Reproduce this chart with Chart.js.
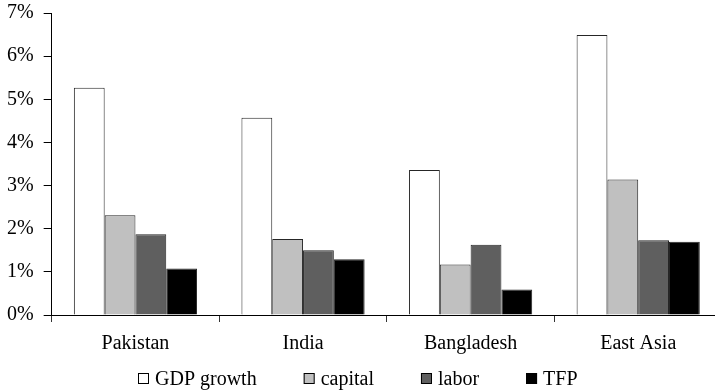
<!DOCTYPE html>
<html>
<head>
<meta charset="utf-8">
<script src="https://cdn.jsdelivr.net/npm/chart.js@4/dist/chart.umd.min.js"></script>
<style>
  html, body { margin: 0; padding: 0; background: #fff; overflow: hidden; }
  #wrap { width: 722px; height: 391px; }
</style>
</head>
<body>
<div id="wrap"><canvas id="barchart"></canvas></div>
<script>
// values in percent
const countries = ["Pakistan", "India", "Bangladesh", "East Asia"];
const gdpGrowth = [5.27, 4.57, 3.36, 6.49];
const capital = [2.31, 1.76, 1.17, 3.14];
const labor = [1.87, 1.50, 1.63, 1.73];
const tfp = [1.08, 1.29, 0.59, 1.70];
const yTicks = [0, 1, 2, 3, 4, 5, 6, 7];

const serif = "'Liberation Serif', 'DejaVu Serif', serif";
const edge = "#262626";

// Legend drawn by hand: Chart.js uses one padding for both gaps and height
const legendBelow = {
  id: "legendBelow",
  afterDraw(chart) {
    const ctx = chart.ctx;
    const box = 11;
    const gapText = 6;
    const gapItem = 47;
    const baseline = 385;
    const centerX = 357.5; // middle of the visible window
    ctx.save();
    ctx.font = "20px " + serif;
    const items = chart.data.datasets.map((ds) => ({
      text: ds.label,
      fill: ds.backgroundColor,
      w: ctx.measureText(ds.label).width,
    }));
    let total = gapItem * (items.length - 1);
    items.forEach((it) => (total += box + gapText + it.w));
    let x = Math.round(centerX - total / 2);
    items.forEach((it) => {
      ctx.fillStyle = it.fill;
      ctx.fillRect(x, baseline - box - 1, box, box);
      ctx.strokeStyle = "#000";
      ctx.lineWidth = 1;
      ctx.strokeRect(x + 0.5, baseline - box - 0.5, box - 1, box - 1);
      ctx.fillStyle = "#000";
      ctx.textBaseline = "alphabetic";
      ctx.fillText(it.text, x + box + gapText, baseline);
      x += box + gapText + it.w + gapItem;
    });
    ctx.restore();
  },
};

const ctx_barchart = document.getElementById("barchart").getContext("2d");

const barchart = new Chart(ctx_barchart, {
  type: "bar",
  data: {
    labels: countries,
    datasets: [
      { label: "GDP growth", data: gdpGrowth, backgroundColor: "#ffffff" },
      { label: "capital", data: capital, backgroundColor: "#c0c0c0" },
      { label: "labor", data: labor, backgroundColor: "#5f5f5f" },
      { label: "TFP", data: tfp, backgroundColor: "#000000" },
    ].map((ds) => ({
      ...ds,
      borderColor: edge,
      borderWidth: 1,
      categoryPercentage: 0.735,
      barPercentage: 1.0,
    })),
  },
  options: {
    responsive: true,
    maintainAspectRatio: false,
    animation: false,
    layout: { padding: { left: -3, right: 0, top: 0, bottom: 25 } },
    plugins: {
      tooltip: { enabled: false },
      legend: false, // own legend below
    },
    scales: {
      x: {
        grid: {
          display: true,
          drawOnChartArea: false,
          offset: true,
          color: "#000",
          tickLength: 7,
          tickColor: "#333",
        },
        border: { display: true, color: "#000", width: 1 },
        ticks: {
          color: "#000",
          font: { family: serif, size: 20 },
          padding: 10,
        },
      },
      y: {
        min: 0,
        max: 7,
        afterBuildTicks: (scale) => {
          scale.ticks = yTicks.map((v) => ({ value: v }));
        },
        afterFit: (scale) => {
          scale.paddingTop = 13; // top tick sits near the canvas edge
        },
        grid: {
          display: true,
          drawOnChartArea: false,
          color: "#000",
          tickLength: 8,
        },
        border: { display: true, color: "#000", width: 1 },
        ticks: {
          color: "#000",
          font: { family: serif, size: 20 },
          padding: 10,
          callback: (v) => v + "%",
        },
      },
    },
  },
  plugins: [legendBelow],
});
</script>
</body>
</html>
